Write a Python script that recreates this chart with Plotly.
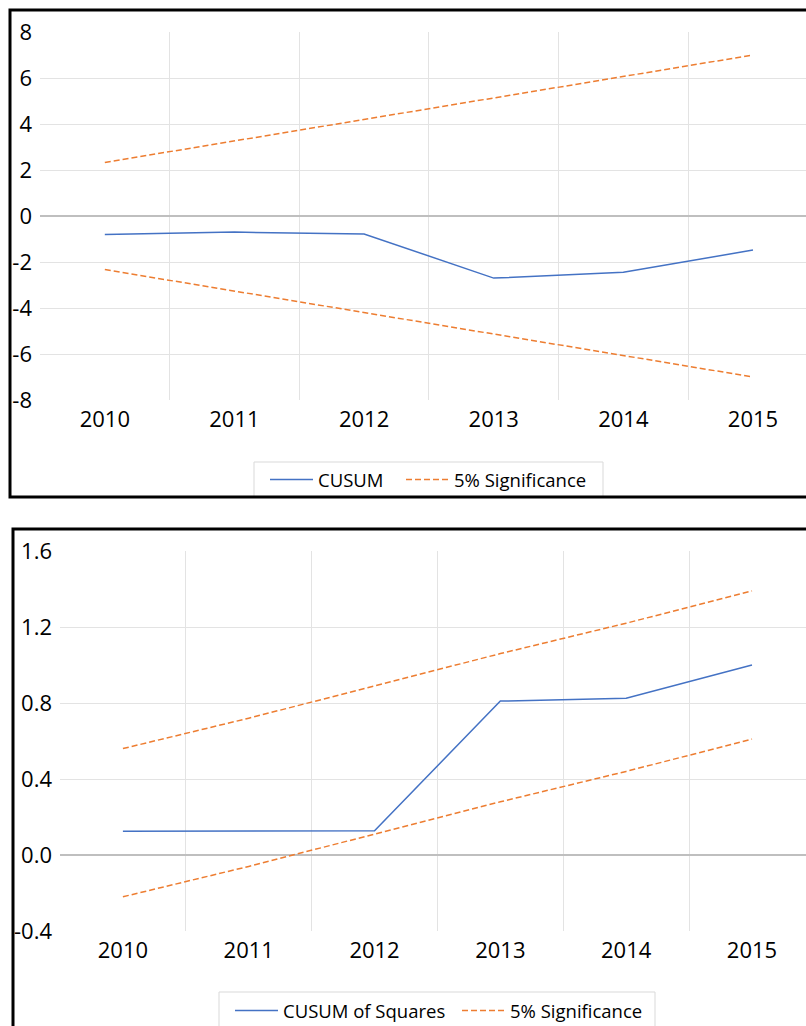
import plotly.graph_objects as go

years = [2010, 2011, 2012, 2013, 2014, 2015]
year_labels = ["2010", "2011", "2012", "2013", "2014", "2015"]

cusum = [-0.80, -0.70, -0.78, -2.70, -2.45, -1.48]
cusum_upper = [2.33, 3.27, 4.20, 5.13, 6.07, 7.00]
cusum_lower = [-2.33, -3.27, -4.20, -5.13, -6.07, -7.00]

cusumsq = [0.125, 0.127, 0.128, 0.81, 0.825, 1.00]
sq_upper = [0.56, 0.72, 0.89, 1.06, 1.22, 1.39]
sq_lower = [-0.22, -0.06, 0.11, 0.28, 0.44, 0.61]

top_yticks = [-8, -6, -4, -2, 0, 2, 4, 6, 8]
bot_yticks = [-0.4, 0.0, 0.4, 0.8, 1.2, 1.6]

W, H = 806, 1026
BLUE = "#4472C4"
ORANGE = "#ED7D31"
GRID = "#e3e3e3"
ZERO = "#bfbfbf"
FONT = "Open Sans"
DASH = "6px,3px"


def px_x(p):
    return p / W


def px_y(p):
    return 1 - p / H


fig = go.Figure()

fig.add_trace(go.Scatter(x=years, y=cusum, mode="lines", name="CUSUM",
                         line=dict(color=BLUE, width=1.5), xaxis="x", yaxis="y", legend="legend"))
fig.add_trace(go.Scatter(x=years, y=cusum_upper, mode="lines", name="5% Significance",
                         line=dict(color=ORANGE, width=1.5, dash=DASH), xaxis="x", yaxis="y",
                         legend="legend2"))
fig.add_trace(go.Scatter(x=years, y=cusum_lower, mode="lines", name="5% Significance",
                         line=dict(color=ORANGE, width=1.5, dash=DASH), xaxis="x", yaxis="y",
                         showlegend=False))

fig.add_trace(go.Scatter(x=years, y=cusumsq, mode="lines", name="CUSUM of Squares",
                         line=dict(color=BLUE, width=1.5), xaxis="x2", yaxis="y2", legend="legend3"))
fig.add_trace(go.Scatter(x=years, y=sq_upper, mode="lines", name="5% Significance",
                         line=dict(color=ORANGE, width=1.5, dash=DASH), xaxis="x2", yaxis="y2",
                         legend="legend4"))
fig.add_trace(go.Scatter(x=years, y=sq_lower, mode="lines", name="5% Significance",
                         line=dict(color=ORANGE, width=1.5, dash=DASH), xaxis="x2", yaxis="y2",
                         showlegend=False))

mid_years = [y + 0.5 for y in years]


def xaxis_cfg(domain_left, rng, anchor):
    return dict(
        domain=[domain_left, 1.0], range=rng, anchor=anchor, automargin=False,
        tickmode="array", tickvals=years, ticktext=year_labels,
        showgrid=False, zeroline=False, showline=False, ticks="",
        tickfont=dict(family=FONT, size=22, color="#000000"),
        ticklabelstandoff=4,
        minor=dict(tickmode="array", tickvals=mid_years, showgrid=True,
                   gridcolor=GRID, gridwidth=1, ticks=""),
        fixedrange=True,
    )


def yaxis_cfg(domain, rng, tickvals, ticktext, gridvals, anchor):
    return dict(
        domain=domain, range=rng, anchor=anchor, automargin=False,
        tickmode="array", tickvals=tickvals, ticktext=ticktext,
        showgrid=False, zeroline=True, zerolinecolor=ZERO, zerolinewidth=1.5,
        showline=False, ticks="",
        tickfont=dict(family=FONT, size=22, color="#000000"),
        ticklabelstandoff=7,
        minor=dict(tickmode="array", tickvals=gridvals, showgrid=True,
                   gridcolor=GRID, gridwidth=1, ticks=""),
        fixedrange=True,
    )


top_left = 40
top_rng = [2009.5, 2010 + (W - 105) / 129.6]
bot_left = 60
bot_rng = [2009.5, 2010 + (W - 123) / 125.8]


def leg(xpx, ypx):
    return dict(orientation="h", x=px_x(xpx), y=px_y(ypx), xanchor="left", yanchor="middle",
                borderwidth=0, bgcolor="rgba(0,0,0,0)", itemwidth=43,
                font=dict(family=FONT, size=18.5, color="#000000"))


fig.update_layout(
    width=W, height=H,
    margin=dict(l=0, r=0, t=0, b=0, autoexpand=False),
    paper_bgcolor="white", plot_bgcolor="white",
    font=dict(family=FONT, color="#000000"),
    xaxis=xaxis_cfg(px_x(top_left), top_rng, "y"),
    yaxis=yaxis_cfg([px_y(400), px_y(32)], [-8, 8], top_yticks,
                    [str(v) for v in top_yticks], [-6, -4, -2, 2, 4, 6], "x"),
    xaxis2=xaxis_cfg(px_x(bot_left), bot_rng, "y2"),
    yaxis2=yaxis_cfg([px_y(931), px_y(551)], [-0.4, 1.6], bot_yticks,
                     [f"{v:.1f}" for v in bot_yticks], [0.4, 0.8, 1.2], "x2"),
    legend=leg(265, 480),
    legend2=leg(401, 480),
    legend3=leg(230, 1011),
    legend4=leg(457, 1011),
    shapes=[
        dict(type="rect", xref="paper", yref="paper",
             x0=px_x(254), x1=px_x(603), y0=px_y(497), y1=px_y(462),
             line=dict(color="#d9d9d9", width=1), fillcolor="white", layer="above"),
        dict(type="rect", xref="paper", yref="paper",
             x0=px_x(219), x1=px_x(655), y0=px_y(1040), y1=px_y(992),
             line=dict(color="#d9d9d9", width=1), fillcolor="white", layer="above"),
        dict(type="rect", xref="paper", yref="paper",
             x0=px_x(10), x1=1.02, y0=px_y(497), y1=px_y(10),
             line=dict(color="black", width=3), fillcolor="rgba(0,0,0,0)", layer="above"),
        dict(type="rect", xref="paper", yref="paper",
             x0=px_x(13), x1=1.02, y0=-0.05, y1=px_y(529),
             line=dict(color="black", width=3), fillcolor="rgba(0,0,0,0)", layer="above"),
    ],
)

fig.write_html("out.html", config={"displayModeBar": False},
               post_script="document.body.style.margin='0';document.body.style.overflow='hidden';")
